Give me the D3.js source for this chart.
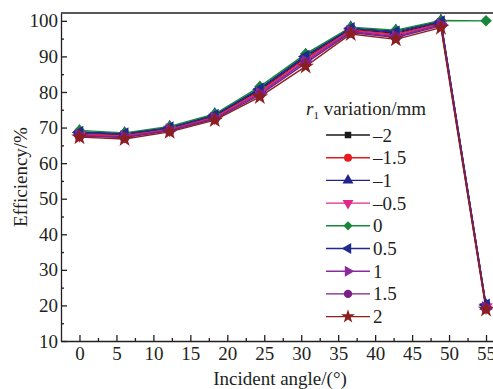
<!DOCTYPE html>
<html>
<head>
<meta charset="utf-8">
<script src="https://cdn.jsdelivr.net/npm/d3@7"></script>
<style>
    body { margin: 0; background: #fff; }
    svg { display: block; font-family: "Liberation Serif", "Times New Roman", serif; }
</style>
</head>
<body>
<svg id="chart" width="493" height="389"></svg>
<script>
// ---- Dados
const angles = [0, 6.1, 12.2, 18.3, 24.4, 30.6, 36.7, 42.8, 48.9, 55];

const seriesNames = ['–2', '–1.5', '–1', '–0.5', '0', '0.5', '1', '1.5', '2'];

const valsM2  = [68.3, 68.0, 69.7, 73.2, 80.5, 89.7, 97.6, 96.5, 99.5, 19.8];
const valsM15 = [68.1, 67.8, 69.6, 73.0, 80.2, 89.4, 97.4, 96.2, 99.3, 19.6];
const valsM1  = [68.8, 68.3, 70.0, 73.6, 81.0, 90.3, 98.0, 97.1, 99.9, 19.9];
const valsM05 = [67.9, 67.6, 69.4, 72.8, 79.9, 89.0, 97.2, 95.9, 99.1, 19.5];
const vals0   = [69.2, 68.5, 70.3, 73.8, 81.5, 90.7, 98.2, 97.4, 100.1, 100.0];
const valsP05 = [68.6, 68.2, 69.9, 73.4, 80.8, 90.0, 97.8, 96.8, 99.7, 20.1];
const valsP1  = [67.8, 67.4, 69.3, 72.6, 79.6, 88.6, 97.0, 95.6, 98.9, 19.4];
const valsP15 = [67.6, 67.2, 69.1, 72.4, 79.2, 88.1, 96.7, 95.3, 98.6, 19.2];
const valsP2  = [67.3, 66.8, 68.8, 72.1, 78.6, 87.2, 96.3, 94.8, 98.1, 18.9];

const xTicks = [0, 5, 10, 15, 20, 25, 30, 35, 40, 45, 50, 55];
const yTicks = [10, 20, 30, 40, 50, 60, 70, 80, 90, 100];

// ---- Estilos das séries
const series = [
    { name: seriesNames[0], values: valsM2,  color: '#1a1a1a', symbol: d3.symbolSquare,   rot: 0,   size: 42 },
    { name: seriesNames[1], values: valsM15, color: '#e8191f', symbol: d3.symbolCircle,   rot: 0,   size: 50 },
    { name: seriesNames[2], values: valsM1,  color: '#22238c', symbol: d3.symbolTriangle, rot: 0,   size: 52 },
    { name: seriesNames[3], values: valsM05, color: '#e0288a', symbol: d3.symbolTriangle, rot: 180, size: 52 },
    { name: seriesNames[4], values: vals0,   color: '#17883a', symbol: d3.symbolSquare,   rot: 45,  size: 42 },
    { name: seriesNames[5], values: valsP05, color: '#1e2a8e', symbol: d3.symbolTriangle, rot: -90, size: 52 },
    { name: seriesNames[6], values: valsP1,  color: '#8a2a9c', symbol: d3.symbolTriangle, rot: 90,  size: 52 },
    { name: seriesNames[7], values: valsP15, color: '#7b1f86', symbol: d3.symbolCircle,   rot: 0,   size: 55 },
    { name: seriesNames[8], values: valsP2,  color: '#8b1f1f', symbol: d3.symbolStar,     rot: 0,   size: 60 }
];

const svg = d3.select('#chart');
const axisColor = '#231f20';

// ---- Escalas
const mapX = d3.scaleLinear().domain([-2.5, 57.5]).range([61, 504.5]);
const mapY = d3.scaleLinear().domain([10, 102.2]).range([341, 13]);

// ---- Linhas e marcadores
const line = d3.line()
    .x((d, i) => mapX(angles[i]))
    .y(d => mapY(d));

const sGroup = svg.append('g').attr('id', 'series');

series.forEach(s => {
    sGroup.append('path')
        .attr('d', line(s.values))
        .attr('fill', 'none')
        .attr('stroke', s.color)
        .attr('stroke-width', 1.4);
});

series.forEach(s => {
    const sym = d3.symbol().type(s.symbol).size(s.size + 25);
    sGroup.selectAll(null)
        .data(s.values)
        .join('path')
        .attr('d', sym)
        .attr('transform', (d, i) => `translate(${mapX(angles[i])},${mapY(d)}) rotate(${s.rot})`)
        .attr('fill', s.color);
});

// ---- Eixos
const xAxis = d3.axisBottom(mapX)
    .tickValues(xTicks)
    .tickSizeInner(-6)
    .tickSizeOuter(0)
    .tickPadding(6);

svg.append('g')
    .attr('transform', `translate(0, ${mapY(10)})`)
    .call(xAxis);

svg.append('g')
    .attr('transform', `translate(0, ${mapY(10)})`)
    .call(d3.axisBottom(mapX).tickValues(d3.range(2.5, 57.6, 5)).tickSizeInner(-3).tickSizeOuter(0).tickFormat(''))
    .call(g => g.select('.domain').remove());

const yAxis = d3.axisLeft(mapY)
    .tickValues(yTicks)
    .tickSizeInner(-6)
    .tickSizeOuter(0)
    .tickPadding(3);

svg.append('g')
    .attr('transform', `translate(${mapX(-2.5)}, 0)`)
    .call(yAxis);

svg.append('g')
    .attr('transform', `translate(${mapX(-2.5)}, 0)`)
    .call(d3.axisLeft(mapY).tickValues(d3.range(15, 100, 10)).tickSizeInner(-3).tickSizeOuter(0).tickFormat(''))
    .call(g => g.select('.domain').remove());

svg.selectAll('.domain, .tick line')
    .attr('stroke', axisColor)
    .attr('stroke-width', 1.3);

svg.selectAll('.tick text')
    .attr('fill', axisColor)
    .style('font-size', '19px')
    .style('font-family', '"Liberation Serif", "Times New Roman", serif');

// moldura superior
svg.append('line')
    .attr('x1', mapX(-2.5)).attr('x2', mapX(57.5))
    .attr('y1', mapY(102.2)).attr('y2', mapY(102.2))
    .attr('stroke', axisColor)
    .attr('stroke-width', 1.3);

// ---- Títulos dos eixos
svg.append('text')
    .attr('x', (mapX(-2.5) + 493) / 2 + 3)
    .attr('y', 385)
    .attr('text-anchor', 'middle')
    .attr('fill', axisColor)
    .style('font-size', '19px')
    .text('Incident angle/(°)');

svg.append('text')
    .attr('transform', `translate(27, ${(mapY(10) + mapY(102.2)) / 2}) rotate(-90)`)
    .attr('text-anchor', 'middle')
    .attr('fill', axisColor)
    .style('font-size', '19px')
    .text('Efficiency/%');

// ---- Legenda
const legend = svg.append('g').attr('id', 'legend');

const title = legend.append('text')
    .attr('x', 306)
    .attr('y', 115)
    .attr('fill', axisColor)
    .style('font-size', '19px');
title.append('tspan').style('font-style', 'italic').text('r');
title.append('tspan').attr('dy', 4).style('font-size', '11px').text('1');
title.append('tspan').attr('dy', -4).text(' variation/mm');

series.forEach((s, i) => {
    const cy = 135 + i * 22.7;
    legend.append('line')
        .attr('x1', 326).attr('x2', 370)
        .attr('y1', cy).attr('y2', cy)
        .attr('stroke', s.color)
        .attr('stroke-width', 1.4);
    legend.append('path')
        .attr('d', d3.symbol().type(s.symbol).size(s.size)())
        .attr('transform', `translate(348,${cy}) rotate(${s.rot})`)
        .attr('fill', s.color);
    legend.append('text')
        .attr('x', 373)
        .attr('y', cy + 6.5)
        .attr('fill', axisColor)
        .style('font-size', '19px')
        .text(s.name);
});
</script>
</body>
</html>
